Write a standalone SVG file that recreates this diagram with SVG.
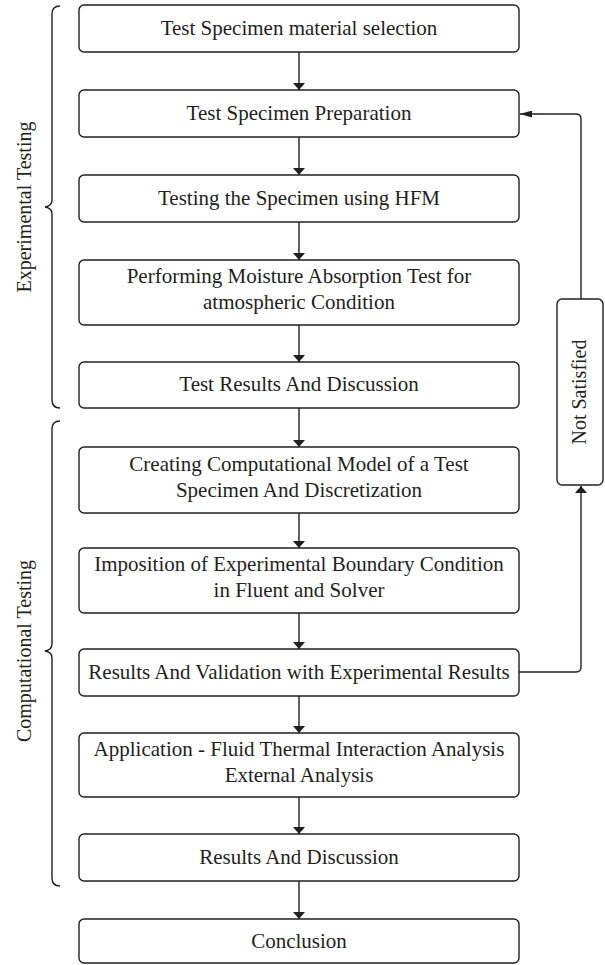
<svg xmlns="http://www.w3.org/2000/svg" width="605" height="965" viewBox="0 0 605 965">
  <style>
    .box { fill: #ffffff; stroke: #231f20; stroke-width: 1.4; }
    .lbl { font-family: "Liberation Serif", "Times New Roman", serif; font-size: 21px; fill: #231f20; text-anchor: middle; }
    .side { font-family: "Liberation Serif", "Times New Roman", serif; font-size: 20px; fill: #231f20; text-anchor: middle; }
    .wire { fill: none; stroke: #231f20; stroke-width: 1.4; }
    .brace { fill: none; stroke: #231f20; stroke-width: 1.4; }
  </style>
  <defs>
    <marker id="arrow" viewBox="0 0 10 10" refX="10" refY="5" markerWidth="7" markerHeight="12" markerUnits="userSpaceOnUse" orient="auto" preserveAspectRatio="none">
      <path d="M0,0 L10,5 L0,10 Z" fill="#231f20"/>
    </marker>
    <marker id="arrow-h" viewBox="0 0 10 10" refX="10" refY="5" markerWidth="12" markerHeight="7" markerUnits="userSpaceOnUse" orient="auto" preserveAspectRatio="none">
      <path d="M0,0 L10,5 L0,10 Z" fill="#231f20"/>
    </marker>
  </defs>
  <rect width="605" height="965" fill="#ffffff"/>

  <!-- side brackets and group labels -->
  <g id="group-experimental">
    <path class="brace" d="M60,6 Q52,6 52,14 L52,200 Q52,206 45,207 Q52,208 52,214 L52,400 Q52,408 60,408"/>
    <text class="side" transform="translate(31,207) rotate(-90)">Experimental Testing</text>
  </g>
  <g id="group-computational">
    <path class="brace" d="M60,421 Q52,421 52,429 L52,644 Q52,650 45,651 Q52,652 52,658 L52,878 Q52,886 60,886"/>
    <text class="side" transform="translate(31,651) rotate(-90)">Computational Testing</text>
  </g>

  <!-- connectors -->
  <g id="connectors">
    <line class="wire" x1="299" y1="52" x2="299" y2="90" marker-end="url(#arrow)"/>
    <line class="wire" x1="299" y1="137" x2="299" y2="175" marker-end="url(#arrow)"/>
    <line class="wire" x1="299" y1="222" x2="299" y2="260" marker-end="url(#arrow)"/>
    <line class="wire" x1="299" y1="325" x2="299" y2="362" marker-end="url(#arrow)"/>
    <line class="wire" x1="299" y1="408" x2="299" y2="447" marker-end="url(#arrow)"/>
    <line class="wire" x1="299" y1="513" x2="299" y2="548" marker-end="url(#arrow)"/>
    <line class="wire" x1="299" y1="613" x2="299" y2="649" marker-end="url(#arrow)"/>
    <line class="wire" x1="299" y1="696" x2="299" y2="733" marker-end="url(#arrow)"/>
    <line class="wire" x1="299" y1="797" x2="299" y2="834" marker-end="url(#arrow)"/>
    <line class="wire" x1="299" y1="881" x2="299" y2="919" marker-end="url(#arrow)"/>
    <path class="wire" d="M519,672 L576,672 Q581,672 581,667 L581,486" marker-end="url(#arrow)"/>
    <path class="wire" d="M581,299 L581,119 Q581,114 576,114 L520,114" marker-end="url(#arrow-h)"/>
  </g>

  <g id="n1"><rect class="box" x="79" y="5" width="440" height="47" rx="5"/><text class="lbl" x="299" y="35">Test Specimen material selection</text></g>
  <g id="n2"><rect class="box" x="79" y="90" width="440" height="47" rx="5"/><text class="lbl" x="299" y="120">Test Specimen Preparation</text></g>
  <g id="n3"><rect class="box" x="79" y="175" width="440" height="47" rx="5"/><text class="lbl" x="299" y="205">Testing the Specimen using HFM</text></g>
  <g id="n4"><rect class="box" x="79" y="260" width="440" height="65" rx="5"/><text class="lbl" x="299" y="283">Performing Moisture Absorption Test for</text><text class="lbl" x="299" y="309">atmospheric Condition</text></g>
  <g id="n5"><rect class="box" x="79" y="362" width="440" height="46" rx="5"/><text class="lbl" x="299" y="391">Test Results And Discussion</text></g>
  <g id="n6"><rect class="box" x="79" y="447" width="440" height="66" rx="5"/><text class="lbl" x="299" y="471">Creating Computational Model of a Test</text><text class="lbl" x="299" y="497">Specimen And Discretization</text></g>
  <g id="n7"><rect class="box" x="79" y="548" width="440" height="65" rx="5"/><text class="lbl" x="299" y="571">Imposition of Experimental Boundary Condition</text><text class="lbl" x="299" y="597">in Fluent and Solver</text></g>
  <g id="n8"><rect class="box" x="79" y="649" width="440" height="47" rx="5"/><text class="lbl" x="299" y="679">Results And Validation with Experimental Results</text></g>
  <g id="n9"><rect class="box" x="79" y="733" width="440" height="64" rx="5"/><text class="lbl" x="299" y="756">Application - Fluid Thermal Interaction Analysis</text><text class="lbl" x="299" y="782">External Analysis</text></g>
  <g id="n10"><rect class="box" x="79" y="834" width="440" height="47" rx="5"/><text class="lbl" x="299" y="864">Results And Discussion</text></g>
  <g id="n11"><rect class="box" x="79" y="919" width="440" height="44" rx="5"/><text class="lbl" x="299" y="948">Conclusion</text></g>

  <g id="not-satisfied"><rect class="box" x="557" y="299" width="46" height="186" rx="5"/><text class="side" transform="translate(586,392) rotate(-90)">Not Satisfied</text></g>
</svg>
